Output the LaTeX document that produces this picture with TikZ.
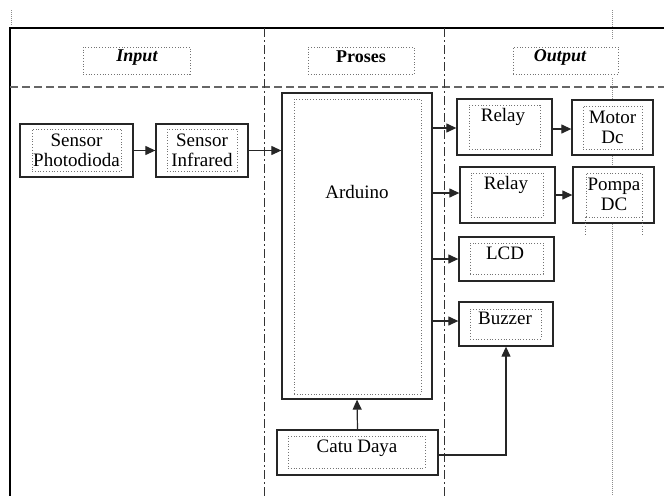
\documentclass[tikz,border=0pt]{standalone}
\usepackage{fontspec}
\setmainfont{Liberation Serif}
\usetikzlibrary{arrows.meta}

\begin{document}
\begin{tikzpicture}[x=1pt,y=-1pt,
    blok/.style={draw=black!85, line width=1.3pt, fill=white, inner sep=0pt},
    isi/.style={draw=black!55, dotted, line width=0.8pt, inner sep=0pt},
    teks/.style={font=\fontsize{19}{20}\selectfont, inner sep=0pt, align=center},
    judul/.style={font=\fontsize{18}{20}\selectfont\bfseries, inner sep=0pt},
    panah/.style={-{Triangle[length=10pt,width=9pt]}, line width=1.2pt, draw=black!85}]
  \useasboundingbox (0,0) rectangle (664,496);

  % garis tepi halaman
  \draw[black!45, densely dotted, line width=1pt] (11,10) -- (11,26);
  \draw[black!45, densely dotted, line width=1pt] (612,10) -- (612,40);
  \draw[black!45, densely dotted, line width=1pt] (612,78) -- (612,495);

  % bingkai tabel dan pembagi kolom
  \draw[line width=2pt] (664,28) -- (10,28) -- (10,496);
  \draw[black!60, line width=1.5pt, dash pattern=on 8pt off 4pt] (10,87) -- (664,87);
  \draw[black!80, line width=0.9pt, dash pattern=on 9pt off 3pt on 2pt off 3pt] (264,28) -- (264,496);
  \draw[black!80, line width=0.9pt, dash pattern=on 9pt off 3pt on 2pt off 3pt] (444,28) -- (444,496);

  % judul kolom
  \node[isi, minimum width=107pt, minimum height=27pt] (kinput) at (136.5,60.5) {};
  \node[isi, minimum width=106pt, minimum height=27pt] (kproses) at (361,60.5) {};
  \node[isi, minimum width=105pt, minimum height=27pt] (koutput) at (565.5,60.5) {};
  \node[judul, anchor=base] (tinput) at (137,61.7) {\itshape Input};
  \node[judul, anchor=base] (tproses) at (361,62.7) {Proses};
  \node[judul, anchor=base] (toutput) at (560,61.7) {\itshape Output};

  % blok masukan
  \node[blok, minimum width=113pt, minimum height=53pt] (photo) at (76.5,150.5) {};
  \node[isi, minimum width=89pt, minimum height=42pt] (photoin) at (76.5,150) {};
  \node[teks] (phototxt) at (76.5,150.5) {Sensor\\Photodioda};
  \node[blok, minimum width=92pt, minimum height=53pt] (infra) at (202,150.5) {};
  \node[isi, minimum width=70pt, minimum height=42pt] (infrain) at (202,150) {};
  \node[teks] (infratxt) at (202,150.5) {Sensor\\Infrared};

  % blok proses
  \node[blok, minimum width=150pt, minimum height=306pt] (arduino) at (357,246) {};
  \node[isi, minimum width=127pt, minimum height=295pt] (arduinoin) at (357.5,246.5) {};
  \node[teks, anchor=base] (arduinotxt) at (357,198.3) {Arduino};
  \node[blok, minimum width=161pt, minimum height=45pt] (catu) at (357.5,452.5) {};
  \node[isi, minimum width=137pt, minimum height=32pt] (catuin) at (356.5,452) {};
  \node[teks, anchor=base] (catutxt) at (357,452.7) {Catu Daya};

  % blok keluaran
  \node[blok, minimum width=95pt, minimum height=56pt] (relay1) at (504.5,127) {};
  \node[isi, minimum width=71pt, minimum height=44pt] (relay1in) at (504.5,127) {};
  \node[teks, anchor=base] (relay1txt) at (503,121.7) {Relay};
  \node[blok, minimum width=81pt, minimum height=55pt] (motor) at (612.5,127.5) {};
  \node[isi, minimum width=59pt, minimum height=43pt] (motorin) at (612.5,127.5) {};
  \node[teks] (motortxt) at (612.5,127.5) {Motor\\Dc};
  \node[blok, minimum width=95pt, minimum height=56pt] (relay2) at (507.5,195) {};
  \node[isi, minimum width=72pt, minimum height=44pt] (relay2in) at (507,195) {};
  \node[teks, anchor=base] (relay2txt) at (506,189.3) {Relay};
  \node[blok, minimum width=81pt, minimum height=56pt] (pompa) at (613.5,195) {};
  \node[isi, minimum width=56pt, minimum height=44pt] (pompain) at (614,195) {};
  \node[teks] (pompatxt) at (614,194.5) {Pompa\\DC};
  \draw[isi] (pompain.south west) -- ++(0,19);
  \draw[isi] (pompain.south east) -- ++(0,19);
  \node[blok, minimum width=95pt, minimum height=44pt] (lcd) at (506.5,259) {};
  \node[isi, minimum width=73pt, minimum height=31pt] (lcdin) at (506.5,258.5) {};
  \node[teks, anchor=base] (lcdtxt) at (505,259.3) {LCD};
  \node[blok, minimum width=94pt, minimum height=44pt] (buzzer) at (506,324) {};
  \node[isi, minimum width=71pt, minimum height=30pt] (buzzerin) at (505.5,324) {};
  \node[teks, anchor=base] (buzzertxt) at (505,324.3) {Buzzer};

  % aliran sinyal
  \draw[panah] (photo.east) -- (infra.west);
  \draw[panah] (infra.east) -- (arduino.west |- infra.east);
  \draw[panah] (arduino.east |- 0,128) -- (relay1.west |- 0,128);
  \draw[panah] (arduino.east |- 0,193) -- (relay2.west |- 0,193);
  \draw[panah] (arduino.east |- lcd.west) -- (lcd.west);
  \draw[panah] (arduino.east |- 0,321) -- (buzzer.west |- 0,321);
  \draw[panah] (relay1.east |- 0,129) -- (motor.west |- 0,129);
  \draw[panah] (relay2.east) -- (pompa.west);
  \draw[panah] (catu.north) -- (arduino.south);
  \draw[panah] (catu.east |- 0,455) -| (buzzer.south);
\end{tikzpicture}
\end{document}
